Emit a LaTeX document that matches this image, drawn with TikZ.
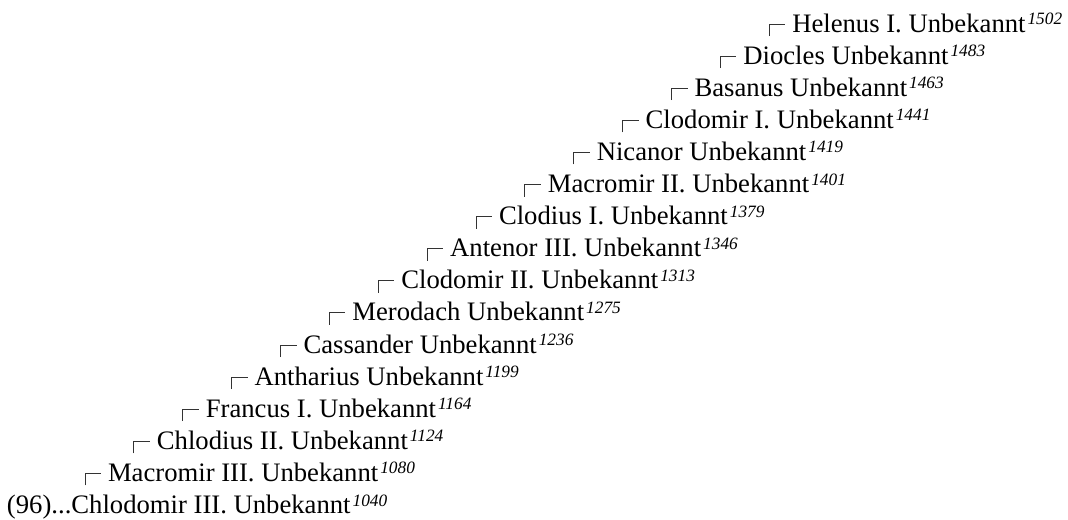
\documentclass[tikz,border=0pt]{standalone}
\usepackage{fontspec}
\setmainfont{Liberation Serif}
\usetikzlibrary{calc}

\newcommand{\jahr}[1]{\hspace{1.5pt}\raisebox{5.6pt}{\fontsize{13}{15}\selectfont\itshape #1}}

\begin{document}
\begin{tikzpicture}[
		x=0.75pt, y=-0.75pt,
		person/.style={anchor=base west, inner sep=0pt, outer sep=0pt, font=\fontsize{20}{24}\selectfont},
		link/.style={line width=0.75pt, black!80}
		]
		\useasboundingbox (0,0) rectangle (1068,519);
		
		\node[person] (chlodomirIII) at (7,513.5) {(96)...Chlodomir III. Unbekannt\jahr{1040}};
		\node[person] (macromirIII) at (108.0,481.4) {Macromir III. Unbekannt\jahr{1080}};
		\node[person] (chlodiusII) at (156.9,449.3) {Chlodius II. Unbekannt\jahr{1124}};
		\node[person] (francusI) at (205.8,417.2) {Francus I. Unbekannt\jahr{1164}};
		\node[person] (antharius) at (254.6,385.1) {Antharius Unbekannt\jahr{1199}};
		\node[person] (cassander) at (303.5,353.0) {Cassander Unbekannt\jahr{1236}};
		\node[person] (merodach) at (352.4,320.9) {Merodach Unbekannt\jahr{1275}};
		\node[person] (clodomirII) at (401.3,288.8) {Clodomir II. Unbekannt\jahr{1313}};
		\node[person] (antenorIII) at (450.2,256.7) {Antenor III. Unbekannt\jahr{1346}};
		\node[person] (clodiusI) at (499.0,224.6) {Clodius I. Unbekannt\jahr{1379}};
		\node[person] (macromirII) at (547.9,192.5) {Macromir II. Unbekannt\jahr{1401}};
		\node[person] (nicanor) at (596.8,160.4) {Nicanor Unbekannt\jahr{1419}};
		\node[person] (clodomirI) at (645.7,128.3) {Clodomir I. Unbekannt\jahr{1441}};
		\node[person] (basanus) at (694.6,96.2) {Basanus Unbekannt\jahr{1463}};
		\node[person] (diocles) at (743.4,64.1) {Diocles Unbekannt\jahr{1483}};
		\node[person] (helenusI) at (792.3,32.0) {Helenus I. Unbekannt\jahr{1502}};
		
		% corner marks in front of each ancestor
		\draw[link] ($(macromirIII.base west)+(-23,4)$) |- ++(16,-12);
		\draw[link] ($(chlodiusII.base west)+(-23,4)$) |- ++(16,-12);
		\draw[link] ($(francusI.base west)+(-23,4)$) |- ++(16,-12);
		\draw[link] ($(antharius.base west)+(-23,4)$) |- ++(16,-12);
		\draw[link] ($(cassander.base west)+(-23,4)$) |- ++(16,-12);
		\draw[link] ($(merodach.base west)+(-23,4)$) |- ++(16,-12);
		\draw[link] ($(clodomirII.base west)+(-23,4)$) |- ++(16,-12);
		\draw[link] ($(antenorIII.base west)+(-23,4)$) |- ++(16,-12);
		\draw[link] ($(clodiusI.base west)+(-23,4)$) |- ++(16,-12);
		\draw[link] ($(macromirII.base west)+(-23,4)$) |- ++(16,-12);
		\draw[link] ($(nicanor.base west)+(-23,4)$) |- ++(16,-12);
		\draw[link] ($(clodomirI.base west)+(-23,4)$) |- ++(16,-12);
		\draw[link] ($(basanus.base west)+(-23,4)$) |- ++(16,-12);
		\draw[link] ($(diocles.base west)+(-23,4)$) |- ++(16,-12);
		\draw[link] ($(helenusI.base west)+(-23,4)$) |- ++(16,-12);
		
	\end{tikzpicture}
\end{document}
